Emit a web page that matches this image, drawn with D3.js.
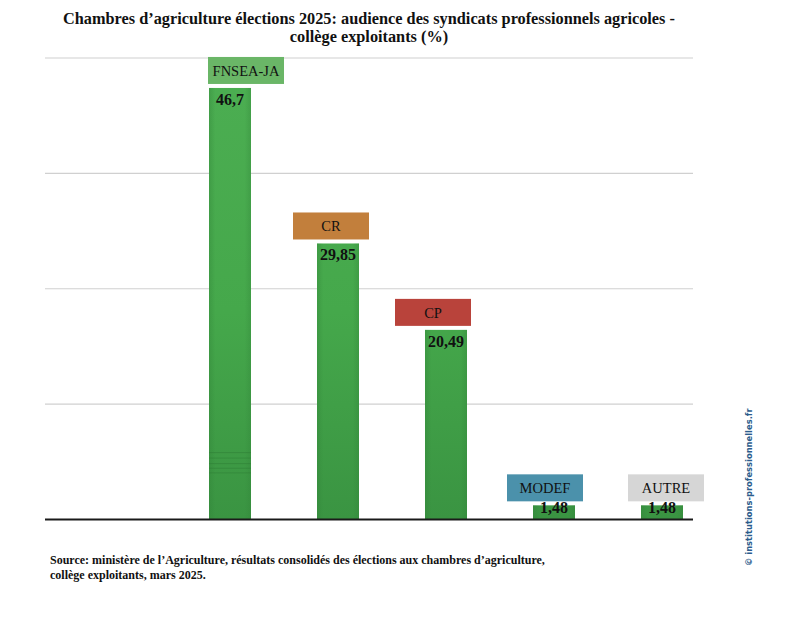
<!DOCTYPE html>
<html><head><meta charset="utf-8">
<script src="https://cdn.jsdelivr.net/npm/d3@7"></script>
<style>body{margin:0;background:#fff}</style>
</head><body><svg id="c" width="785" height="617"></svg>
<script>
const categories = ["FNSEA-JA","CR","CP","MODEF","AUTRE"];
const values = [46.7, 29.85, 20.49, 1.48, 1.48];
const valueLabels = ["46,7","29,85","20,49","1,48","1,48"];
const gridTicks = [0, 12.5, 25, 37.5, 50];
const boxColors = ["#6ab667","#c27f3c","#b9433b","#4b91ab","#d6d6d6"];
const boxNudge = [16, -7, -13, -9, 4];
const titleLines = ["Chambres d\u2019agriculture élections 2025: audience des syndicats professionnels agricoles -","collège exploitants (%)"];
const sourceLines = ["Source: ministère de l\u2019Agriculture, résultats consolidés des élections aux chambres d\u2019agriculture,","collège exploitants, mars 2025."];
const credit = "© institutions-professionnelles.fr";

const svg = d3.select("#c");
const serif = "'Liberation Serif', 'DejaVu Serif', serif";
const left = 45, right = 693;
const y = d3.scaleLinear().domain([0, 50]).range([519, 57.5]);
const x = d3.scaleBand().domain(categories).range([155, 737]).paddingInner(66/108).paddingOuter(0.5);

const defs = svg.append("defs");
const g1 = defs.append("linearGradient").attr("id","barg").attr("x1",0).attr("x2",0).attr("gradientUnits","userSpaceOnUse")
  .attr("y1", y(50)).attr("y2", y(0));
g1.append("stop").attr("offset","0%").attr("stop-color","#4cae52");
g1.append("stop").attr("offset","55%").attr("stop-color","#45a84b");
g1.append("stop").attr("offset","100%").attr("stop-color","#3a9442");
const gh = defs.append("linearGradient").attr("id","barh").attr("x1",0).attr("x2",1).attr("y1",0).attr("y2",0);
gh.append("stop").attr("offset","0%").attr("stop-color","#2f7f36").attr("stop-opacity",0.35);
gh.append("stop").attr("offset","15%").attr("stop-color","#2f7f36").attr("stop-opacity",0);
gh.append("stop").attr("offset","85%").attr("stop-color","#2f7f36").attr("stop-opacity",0);
gh.append("stop").attr("offset","100%").attr("stop-color","#2f7f36").attr("stop-opacity",0.3);

svg.append("g").selectAll("text").data(titleLines).join("text")
  .attr("x", 369).attr("y", (d,i)=>24+i*18).attr("text-anchor","middle")
  .attr("font-family", serif).attr("font-weight","bold").attr("font-size", 16.3).attr("fill","#111")
  .text(d=>d);

const grid = svg.append("g").attr("transform",`translate(${left},0)`)
  .call(d3.axisLeft(y).tickValues(gridTicks.slice(1)).tickSize(-(right-left)).tickFormat(""));
grid.select(".domain").remove();
grid.selectAll(".tick line").attr("stroke","#d0d0d0").attr("stroke-width",1.2);

const bars = svg.append("g");
bars.selectAll("rect.b").data(values).join("rect").attr("class","b")
  .attr("x",(d,i)=>x(categories[i])).attr("width",x.bandwidth())
  .attr("y",d=>y(d)).attr("height",d=>y(0)-y(d)).attr("fill","url(#barg)");
bars.selectAll("rect.h").data(values).join("rect").attr("class","h")
  .attr("x",(d,i)=>x(categories[i])).attr("width",x.bandwidth())
  .attr("y",d=>y(d)).attr("height",d=>y(0)-y(d)).attr("fill","url(#barh)");
bars.selectAll("g.s").data(values.filter(v=>v>40)).join("g").attr("class","s").each(function(d){
  const i = values.indexOf(d);
  const g = d3.select(this);
  [7.2, 6.6, 6.0, 5.5, 5.0].forEach(t=>{
    g.append("line").attr("x1",x(categories[i])).attr("x2",x(categories[i])+x.bandwidth())
      .attr("y1",y(t)).attr("y2",y(t)).attr("stroke","#2c7a33").attr("stroke-opacity",0.45).attr("stroke-width",1);
  });
});

svg.append("line").attr("x1",left).attr("x2",right).attr("y1",y(0)+0.5).attr("y2",y(0)+0.5)
  .attr("stroke","#1a1a1a").attr("stroke-width",2);

svg.append("g").selectAll("text").data(values).join("text")
  .attr("x",(d,i)=>x(categories[i])+x.bandwidth()/2)
  .attr("y",d=>Math.min(y(d)+17, y(0)-6))
  .attr("text-anchor","middle").attr("font-family",serif).attr("font-weight","bold")
  .attr("font-size",16).attr("fill","#111").text((d,i)=>valueLabels[i]);

const bw = 76, bh = 27;
const boxes = svg.append("g").selectAll("g").data(values).join("g")
  .attr("transform",(d,i)=>`translate(${x(categories[i])+x.bandwidth()/2+boxNudge[i]-bw/2},${y(d)-4-bh})`);
boxes.append("rect").attr("width",bw).attr("height",bh).attr("fill",(d,i)=>boxColors[i]);
boxes.append("text").attr("x",bw/2).attr("y",19).attr("text-anchor","middle")
  .attr("font-family",serif).attr("font-size",14.5).attr("fill","#111").text((d,i)=>categories[i]);

svg.append("g").selectAll("text").data(sourceLines).join("text")
  .attr("x",50).attr("y",(d,i)=>564+i*15)
  .attr("font-family",serif).attr("font-weight","bold").attr("font-size",12).attr("fill","#111").text(d=>d);

svg.append("text").attr("transform","translate(752,566) rotate(-90)")
  .attr("font-family","'Liberation Sans Narrow','DejaVu Sans Condensed',sans-serif").attr("font-weight","bold")
  .attr("font-size",9.3).attr("fill","#2b5c8c").text(credit);
</script></body></html>
